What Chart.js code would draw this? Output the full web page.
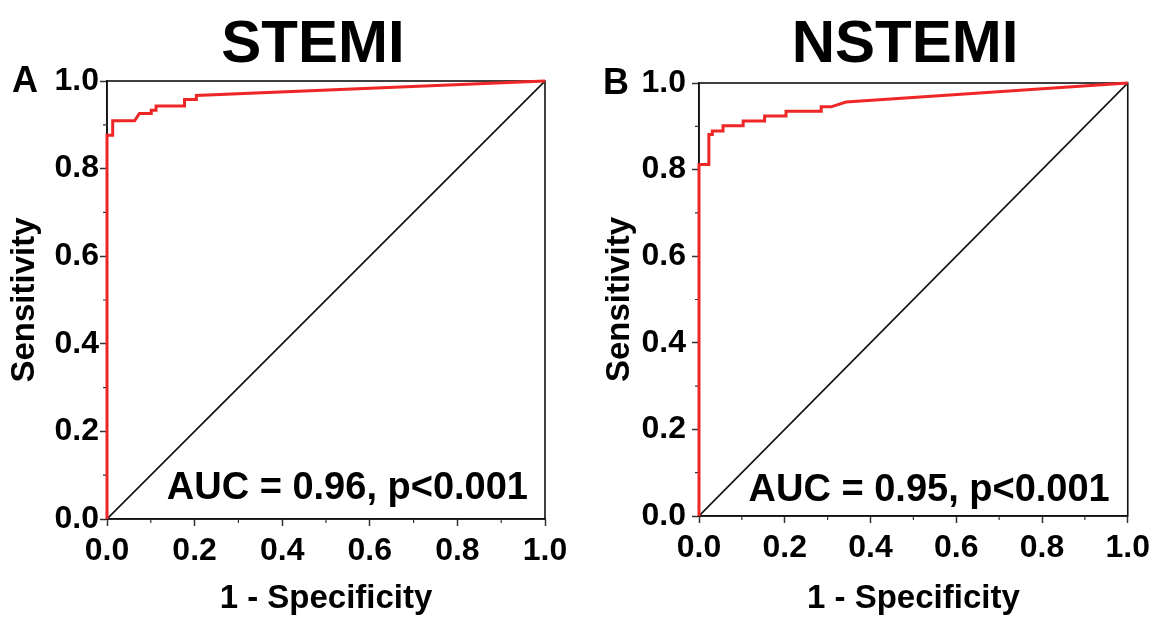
<!DOCTYPE html>
<html>
<head>
<meta charset="utf-8">
<script src="https://cdn.jsdelivr.net/npm/chart.js@4.4.1/dist/chart.umd.min.js"></script>
<style>
	body { margin: 0; background: #fff; }
	.panel { position: absolute; top: 0; width: 578px; height: 619px; }
	#panelA { left: 0; }
	#panelB { left: 578px; }
</style>
</head>
<body>
<div class="panel" id="panelA"><canvas id="rocA" width="578" height="619"></canvas></div>
<div class="panel" id="panelB"><canvas id="rocB" width="578" height="619"></canvas></div>
<script>
// ROC curve points (1 - specificity, sensitivity)
const fprStemi = [0, 0, 0.013, 0.013, 0.063, 0.074, 0.101, 0.101, 0.112, 0.112, 0.177, 0.177, 0.204, 0.204, 1.0];
const tprStemi = [0, 0.876, 0.876, 0.909, 0.909, 0.926, 0.926, 0.933, 0.933, 0.943, 0.943, 0.958, 0.958, 0.967, 1.0];

const fprNstemi = [0, 0, 0.023, 0.023, 0.031, 0.031, 0.056, 0.056, 0.103, 0.103, 0.153, 0.153, 0.203, 0.203, 0.285, 0.285, 0.308, 0.343, 1.0];
const tprNstemi = [0, 0.812, 0.812, 0.881, 0.881, 0.889, 0.889, 0.901, 0.901, 0.912, 0.912, 0.924, 0.924, 0.935, 0.935, 0.945, 0.945, 0.956, 1.0];

// reference line
const diagX = [0, 1];
const diagY = [0, 1];

const majorTicks = [0, 0.2, 0.4, 0.6, 0.8, 1.0];
const minorTicks = [0.1, 0.3, 0.5, 0.7, 0.9];

const FONT = 'Liberation Sans, Arial, Helvetica, sans-serif';

function toPoints(xs, ys) {
	return xs.map((x, i) => ({ x: x, y: ys[i] }));
}

// frame, minor ticks and the text labels on each panel
const decorPlugin = {
	id: 'decor',
	beforeDatasetsDraw(chart) {
		const { ctx, chartArea: a } = chart;
		ctx.save();
		ctx.strokeStyle = '#111';
		ctx.lineWidth = 1.6;
		ctx.strokeRect(a.left, a.top, a.right - a.left, a.bottom - a.top);
		// minor ticks
		ctx.lineWidth = 1.2;
		ctx.strokeStyle = '#333';
		minorTicks.forEach((v) => {
			const px = chart.scales.x.getPixelForValue(v);
			const py = chart.scales.y.getPixelForValue(v);
			ctx.beginPath();
			ctx.moveTo(px, a.bottom);
			ctx.lineTo(px, a.bottom + 4);
			ctx.moveTo(a.left, py);
			ctx.lineTo(a.left - 4, py);
			ctx.stroke();
		});
		ctx.restore();
	},
	afterDraw(chart, args, opts) {
		const { ctx, chartArea: a } = chart;
		ctx.save();
		ctx.fillStyle = '#000';
		ctx.textBaseline = 'alphabetic';
		// big title
		ctx.font = 'bold 60px ' + FONT;
		ctx.textAlign = 'center';
		ctx.fillText(opts.title, opts.titleX, 62);
		// panel letter
		ctx.font = 'bold 36px ' + FONT;
		ctx.textAlign = 'left';
		ctx.fillText(opts.letter, opts.letterX, opts.letterY);
		// AUC note
		ctx.font = 'bold 38px ' + FONT;
		ctx.textAlign = 'right';
		ctx.fillText(opts.note, a.right - opts.noteRight, a.bottom - opts.noteBottom);
		ctx.restore();
	},
};

function makeRoc(canvasId, xs, ys, lay, decor) {
	const ctx = document.getElementById(canvasId).getContext('2d');
	return new Chart(ctx, {
		type: 'line',
		data: {
			datasets: [
				{
					data: toPoints(xs, ys),
					borderColor: 'rgb(238, 38, 38)',
					borderWidth: 3,
					pointRadius: 0,
					tension: 0,
					clip: false,
				},
				{
					data: toPoints(diagX, diagY),
					borderColor: '#111',
					borderWidth: 1.6,
					pointRadius: 0,
					tension: 0,
				},
			],
		},
		options: {
			responsive: false,
			animation: false,
			layout: {
				padding: { left: 0, right: lay.right, top: lay.top, bottom: 0 },
			},
			plugins: {
				legend: { display: false },
				tooltip: { enabled: false },
				decor: decor,
			},
			scales: {
				x: {
					type: 'linear',
					min: 0,
					max: 1,
					afterFit: (s) => { s.height = lay.xHeight; },
					afterBuildTicks: (s) => { s.ticks = majorTicks.map((v) => ({ value: v })); },
					grid: { drawOnChartArea: false, tickLength: 7, tickColor: '#333', tickWidth: 1.5 },
					border: { color: '#111', width: 1.6 },
					ticks: {
						color: '#000',
						padding: 6,
						maxRotation: 0,
						font: { family: FONT, size: 32, weight: 'bold' },
						callback: (v) => Number(v).toFixed(1),
					},
					title: {
						display: true,
						text: '1 - Specificity',
						color: '#000',
						font: { family: FONT, size: 33, weight: 'bold' },
						padding: { top: 0, bottom: lay.xTitleBottom },
					},
				},
				y: {
					type: 'linear',
					min: 0,
					max: 1,
					afterFit: (s) => { s.width = lay.yWidth; },
					afterBuildTicks: (s) => { s.ticks = majorTicks.map((v) => ({ value: v })); },
					grid: { drawOnChartArea: false, tickLength: 7, tickColor: '#333', tickWidth: 1.5 },
					border: { color: '#111', width: 1.6 },
					ticks: {
						color: '#000',
						padding: lay.yTickPad,
						font: { family: FONT, size: 32, weight: 'bold' },
						callback: (v) => Number(v).toFixed(1),
					},
					title: {
						display: true,
						text: 'Sensitivity',
						color: '#000',
						font: { family: FONT, size: 33, weight: 'bold' },
						padding: { top: lay.yTitleLeft, bottom: 0 },
					},
				},
			},
		},
		plugins: [decorPlugin],
	});
}

makeRoc('rocA', fprStemi, tprStemi,
	{ right: 33, top: 81, xHeight: 100, yWidth: 107, xTitleBottom: 0, yTitleLeft: 5, yTickPad: 1 },
	{ title: 'STEMI', titleX: 313, letter: 'A', letterX: 12, letterY: 92, note: 'AUC = 0.96, p<0.001', noteRight: 17, noteBottom: 20 });

makeRoc('rocB', fprNstemi, tprNstemi,
	{ right: 24, top: 83, xHeight: 103, yWidth: 121, xTitleBottom: 0, yTitleLeft: 22, yTickPad: 6 },
	{ title: 'NSTEMI', titleX: 327, letter: 'B', letterX: 25, letterY: 94, note: 'AUC = 0.95, p<0.001', noteRight: 18, noteBottom: 15 });
</script>
</body>
</html>
